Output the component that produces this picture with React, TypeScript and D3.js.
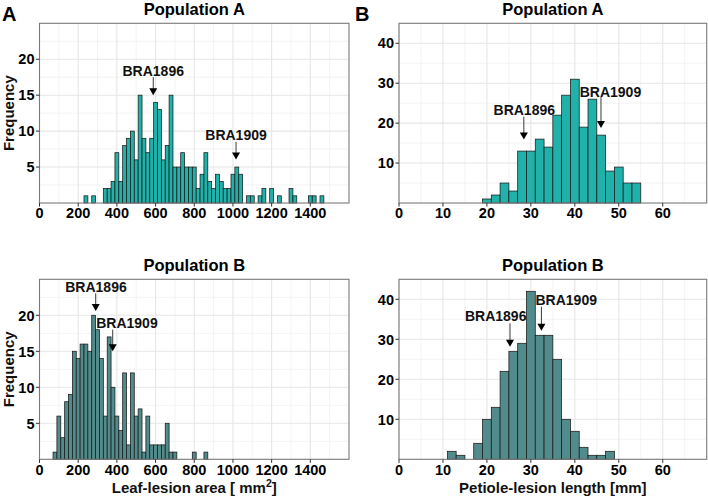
import React from "react";
import * as d3 from "d3";

// ---------- data ----------
const leafBinWidth = 20;
const leafStartA = 230; // first bin left edge, Population A (leaf)
const leafCountsA = [
  1, 0, 1, 0, 0, 2, 2, 3, 7, 3, 8, 9, 10, 6, 15, 9, 7, 9, 14, 13, 6, 8, 15, 5, 5, 7, 5, 5, 5, 2,
  4, 7, 3, 2, 4, 3, 2, 2, 4, 5, 4, 0, 1, 1, 0, 1, 2, 0, 2, 0, 1, 0, 0, 2, 1, 0, 0, 0, 1, 1, 0, 1,
];
const leafStartB = 70;
const leafCountsB = [
  1, 6, 3, 8, 9, 15, 14, 16, 16, 15, 20, 18, 14, 6, 17, 10, 6, 4, 12, 2, 12, 6, 7, 1, 6, 2, 2, 2,
  2, 5, 1, 1, 0, 0, 0, 0, 1, 0, 0, 1,
];
const petBinWidth = 2;
const petStartA = 19;
const petCountsA = [1, 2, 5, 3, 13, 13, 16, 14, 22, 27, 31, 19, 26, 17, 8, 9, 5, 5];
const petStartB = 11;
const petCountsB = [2, 1, 0, 4, 10, 13, 22, 27, 29, 42, 31, 31, 25, 10, 7, 3, 1, 1, 2];

const leafTicks = [0, 200, 400, 600, 800, 1000, 1200, 1400];
const leafMinor = [100, 300, 500, 700, 900, 1100, 1300, 1500];
const petTicks = [0, 10, 20, 30, 40, 50, 60];
const petMinor = [5, 15, 25, 35, 45, 55, 65];
const freqTicksLeaf = [5, 10, 15, 20];
const freqMinorLeaf = [2.5, 7.5, 12.5, 17.5, 22.5];
const freqTicksPet = [10, 20, 30, 40];
const freqMinorPet = [5, 15, 25, 35];

type Ann = { label: string; x: number; y1: number; y2: number; tx: number; ty: number };
const annLeafA: Ann[] = [
  { label: "BRA1896", x: 588, y1: 17.5, y2: 15.0, tx: 588, ty: 18.4 },
  { label: "BRA1909", x: 1016, y1: 8.5, y2: 6.05, tx: 1016, ty: 9.4 },
];
const annLeafB: Ann[] = [
  { label: "BRA1896", x: 290.6, y1: 23.05, y2: 20.6, tx: 292, ty: 24.0 },
  { label: "BRA1909", x: 378.5, y1: 18.0, y2: 15.0, tx: 452, ty: 18.9 },
];
const annPetA: Ann[] = [
  { label: "BRA1896", x: 28.4, y1: 21.6, y2: 15.9, tx: 28.5, ty: 23.25 },
  { label: "BRA1909", x: 45.95, y1: 26.6, y2: 18.8, tx: 48.1, ty: 27.85 },
];
const annPetB: Ann[] = [
  { label: "BRA1896", x: 25.25, y1: 34.0, y2: 28.15, tx: 22.0, ty: 35.8 },
  { label: "BRA1909", x: 32.4, y1: 38.15, y2: 32.15, tx: 38.05, ty: 39.8 },
];

const FONT = "'Liberation Sans', Arial, Helvetica, sans-serif";
const FILL_TOP = "#20B2AA";
const FILL_BOTTOM = "#528B8B";

type PanelProps = {
  left: number;
  right: number;
  top: number;
  bottom: number;
  xDomain: [number, number];
  yDomain: [number, number];
  xTicks: number[];
  xMinor: number[];
  yTicks: number[];
  yMinor: number[];
  start: number;
  binWidth: number;
  counts: number[];
  fill: string;
  title: string;
  xLabel?: React.ReactNode;
  yLabel?: string;
  anns: Ann[];
};

function Panel(p: PanelProps) {
  const xs = d3.scaleLinear().domain(p.xDomain).range([p.left, p.right]);
  const ys = d3.scaleLinear().domain(p.yDomain).range([p.bottom, p.top]);
  const bw = xs(p.binWidth) - xs(0);
  const cx = (p.left + p.right) / 2;
  const cy = (p.top + p.bottom) / 2;
  return (
    <g>
      <rect x={p.left} y={p.top} width={p.right - p.left} height={p.bottom - p.top} fill="#fff" />
      {p.xMinor.map((v) => (
        <line key={"xm" + v} x1={xs(v)} x2={xs(v)} y1={p.top} y2={p.bottom} stroke="#ebebeb" strokeWidth={0.6} />
      ))}
      {p.yMinor.map((v) => (
        <line key={"ym" + v} x1={p.left} x2={p.right} y1={ys(v)} y2={ys(v)} stroke="#ebebeb" strokeWidth={0.6} />
      ))}
      {p.xTicks.map((v) => (
        <line key={"xg" + v} x1={xs(v)} x2={xs(v)} y1={p.top} y2={p.bottom} stroke="#e6e6e6" strokeWidth={1.1} />
      ))}
      {p.yTicks.map((v) => (
        <line key={"yg" + v} x1={p.left} x2={p.right} y1={ys(v)} y2={ys(v)} stroke="#e6e6e6" strokeWidth={1.1} />
      ))}
      {p.counts.map((c, i) =>
        c > 0 ? (
          <rect
            key={"b" + i}
            x={xs(p.start + i * p.binWidth)}
            y={ys(c)}
            width={bw}
            height={ys(0) - ys(c)}
            fill={p.fill}
            stroke="#1a1a1a"
            strokeWidth={0.75}
          />
        ) : null
      )}
      <rect
        x={p.left}
        y={p.top}
        width={p.right - p.left}
        height={p.bottom - p.top}
        fill="none"
        stroke="#7a7a7a"
        strokeWidth={1.1}
      />
      {p.xTicks.map((v) => (
        <g key={"xt" + v}>
          <line x1={xs(v)} x2={xs(v)} y1={p.bottom} y2={p.bottom + 3.6} stroke="#333" strokeWidth={1} />
          <text
            x={xs(v)}
            y={p.bottom + 15.3}
            textAnchor="middle"
            fontFamily={FONT}
            fontWeight="bold"
            fontSize={14.5}
            fill="#000"
          >
            {v}
          </text>
        </g>
      ))}
      {p.yTicks.map((v) => (
        <g key={"yt" + v}>
          <line x1={p.left - 3.6} x2={p.left} y1={ys(v)} y2={ys(v)} stroke="#333" strokeWidth={1} />
          <text
            x={p.left - 5}
            y={ys(v)}
            dy="0.36em"
            textAnchor="end"
            fontFamily={FONT}
            fontWeight="bold"
            fontSize={14.5}
            fill="#000"
          >
            {v}
          </text>
        </g>
      ))}
      {p.anns.map((a) => {
        const ax = xs(a.x);
        const tip = ys(a.y2);
        const head = 7;
        return (
          <g key={a.label}>
            <line x1={ax} x2={ax} y1={ys(a.y1)} y2={tip - head + 1} stroke="#222" strokeWidth={0.9} />
            <polygon points={`${ax - 4},${tip - head} ${ax + 4},${tip - head} ${ax},${tip}`} fill="#000" />
            <text
              x={xs(a.tx)}
              y={ys(a.ty)}
              dy="0.36em"
              textAnchor="middle"
              fontFamily={FONT}
              fontWeight="bold"
              fontSize={14}
              fill="#111"
            >
              {a.label}
            </text>
          </g>
        );
      })}
      <text x={cx} y={p.top - 8.3} textAnchor="middle" fontFamily={FONT} fontWeight="bold" fontSize={16.5} fill="#000">
        {p.title}
      </text>
      {p.xLabel ? (
        <text x={cx} y={p.bottom + 34} textAnchor="middle" fontFamily={FONT} fontWeight="bold" fontSize={15} fill="#111">
          {p.xLabel}
        </text>
      ) : null}
      {p.yLabel ? (
        <text
          transform={`translate(14,${cy}) rotate(-90)`}
          textAnchor="middle"
          fontFamily={FONT}
          fontWeight="bold"
          fontSize={15}
          fill="#111"
        >
          {p.yLabel}
        </text>
      ) : null}
    </g>
  );
}

export default function App() {
  const L = { left: 39.5, right: 349 };
  const R = { left: 399, right: 706.7 };
  const T = { top: 23.3, bottom: 203 };
  const B = { top: 279.3, bottom: 459.3 };
  return (
    <div style={{ position: "fixed", left: 0, top: 0 }}>
      <svg width={708} height={502} style={{ display: "block", background: "#fff" }}>
        <Panel
          {...L}
          {...T}
          xDomain={[0, 1600]}
          yDomain={[0, 25]}
          xTicks={leafTicks}
          xMinor={leafMinor}
          yTicks={freqTicksLeaf}
          yMinor={freqMinorLeaf}
          start={leafStartA}
          binWidth={leafBinWidth}
          counts={leafCountsA}
          fill={FILL_TOP}
          title="Population A"
          yLabel="Frequency"
          anns={annLeafA}
        />
        <Panel
          {...R}
          {...T}
          xDomain={[0, 70]}
          yDomain={[0, 45]}
          xTicks={petTicks}
          xMinor={petMinor}
          yTicks={freqTicksPet}
          yMinor={freqMinorPet}
          start={petStartA}
          binWidth={petBinWidth}
          counts={petCountsA}
          fill={FILL_TOP}
          title="Population A"
          anns={annPetA}
        />
        <Panel
          {...L}
          {...B}
          xDomain={[0, 1600]}
          yDomain={[0, 25]}
          xTicks={leafTicks}
          xMinor={leafMinor}
          yTicks={freqTicksLeaf}
          yMinor={freqMinorLeaf}
          start={leafStartB}
          binWidth={leafBinWidth}
          counts={leafCountsB}
          fill={FILL_BOTTOM}
          title="Population B"
          yLabel="Frequency"
          xLabel={
            <>
              Leaf-lesion area [ mm
              <tspan dy={-6} fontSize={10.5}>
                2
              </tspan>
              <tspan dy={6}>]</tspan>
            </>
          }
          anns={annLeafB}
        />
        <Panel
          {...R}
          {...B}
          xDomain={[0, 70]}
          yDomain={[0, 45]}
          xTicks={petTicks}
          xMinor={petMinor}
          yTicks={freqTicksPet}
          yMinor={freqMinorPet}
          start={petStartB}
          binWidth={petBinWidth}
          counts={petCountsB}
          fill={FILL_BOTTOM}
          title="Population B"
          xLabel="Petiole-lesion length [mm]"
          anns={annPetB}
        />
        <text x={2} y={20.5} fontFamily={FONT} fontWeight="bold" fontSize={20} fill="#000">
          A
        </text>
        <text x={355} y={20.5} fontFamily={FONT} fontWeight="bold" fontSize={20} fill="#000">
          B
        </text>
      </svg>
    </div>
  );
}
